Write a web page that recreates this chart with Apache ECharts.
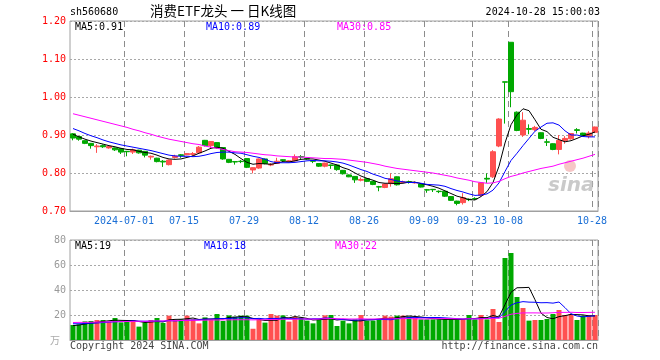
<!DOCTYPE html>
<html><head><meta charset="utf-8">
<script src="https://cdn.jsdelivr.net/npm/echarts@6/dist/echarts.min.js"></script>
<style>html,body{margin:0;padding:0;background:#fff}#c{width:660px;height:360px}</style>
</head><body><div id="c"></div>
<script>
const dates = [
'2024-06-18','2024-06-19','2024-06-20','2024-06-21','2024-06-24','2024-06-25','2024-06-26','2024-06-27','2024-06-28',
'2024-07-01','2024-07-02','2024-07-03','2024-07-04','2024-07-05','2024-07-08','2024-07-09','2024-07-10','2024-07-11','2024-07-12',
'2024-07-15','2024-07-16','2024-07-17','2024-07-18','2024-07-19','2024-07-22','2024-07-23','2024-07-24','2024-07-25','2024-07-26',
'2024-07-29','2024-07-30','2024-07-31','2024-08-01','2024-08-02','2024-08-05','2024-08-06','2024-08-07','2024-08-08','2024-08-09',
'2024-08-12','2024-08-13','2024-08-14','2024-08-15','2024-08-16','2024-08-19','2024-08-20','2024-08-21','2024-08-22','2024-08-23',
'2024-08-26','2024-08-27','2024-08-28','2024-08-29','2024-08-30','2024-09-02','2024-09-03','2024-09-04','2024-09-05','2024-09-06',
'2024-09-09','2024-09-10','2024-09-11','2024-09-12','2024-09-13','2024-09-18','2024-09-19','2024-09-20',
'2024-09-23','2024-09-24','2024-09-25','2024-09-26','2024-09-27','2024-09-30',
'2024-10-08','2024-10-09','2024-10-10','2024-10-11','2024-10-14','2024-10-15','2024-10-16','2024-10-17','2024-10-18',
'2024-10-21','2024-10-22','2024-10-23','2024-10-24','2024-10-25','2024-10-28'];
const tickDates = ['2024-07-01','2024-07-15','2024-07-29','2024-08-12','2024-08-26','2024-09-09','2024-09-23','2024-10-08','2024-10-28'];
const tickLabels = ['2024-07-01','07-15','07-29','08-12','08-26','09-09','09-23','10-08','10-28'];

const opens = [.903,.896,.885,.878,.869,.872,.866,.866,.864,.857,
.855,.860,.857,.842,.839,.831,.822,.841,.848,.848,
.849,.853,.886,.872,.880,.867,.836,.830,.831,.838,
.808,.813,.837,.821,.825,.835,.830,.832,.843,.838,
.832,.825,.818,.821,.821,.807,.795,.791,.781,.785,
.778,.764,.762,.772,.790,.775,.777,.774,.771,.756,
.757,.752,.752,.738,.726,.722,.731,.733,.741,.786,
.790,.871,1.040,1.144,.960,.900,.917,.914,.906,.882,
.877,.862,.885,.890,.914,.905,.897,.907];
const closes = [.892,.889,.878,.872,.871,.869,.870,.861,.855,.856,
.861,.853,.847,.844,.830,.829,.834,.844,.846,.851,
.851,.868,.872,.883,.866,.837,.828,.829,.830,.815,
.814,.837,.825,.823,.831,.833,.832,.843,.842,.837,
.831,.818,.826,.820,.809,.798,.790,.782,.783,.778,
.770,.763,.771,.785,.769,.777,.776,.775,.763,.755,
.756,.751,.739,.728,.720,.735,.730,.732,.774,.784,
.856,.942,1.039,1.014,.912,.939,.915,.920,.891,.881,
.862,.886,.891,.904,.912,.899,.905,.921];
const lows = [.886,.885,.876,.864,.853,.866,.864,.858,.850,.844,
.850,.851,.841,.835,.828,.816,.820,.838,.840,.847,
.843,.852,.870,.866,.864,.835,.826,.822,.826,.813,
.799,.811,.823,.818,.824,.829,.829,.831,.837,.835,
.826,.816,.815,.811,.806,.796,.789,.774,.778,.776,
.768,.752,.760,.764,.767,.774,.772,.772,.762,.748,
.750,.747,.737,.727,.715,.717,.726,.729,.738,.774,
.787,.868,.930,.973,.910,.895,.902,.910,.889,.871,
.860,.849,.877,.888,.904,.897,.891,.905];
const highs = [.905,.897,.886,.879,.876,.875,.872,.867,.865,.858,
.864,.861,.858,.846,.840,.834,.835,.848,.850,.852,
.855,.871,.887,.884,.881,.868,.837,.831,.834,.839,
.815,.838,.838,.826,.840,.836,.834,.849,.847,.840,
.834,.826,.827,.822,.822,.808,.796,.792,.788,.786,
.779,.766,.772,.799,.791,.780,.780,.778,.772,.758,
.758,.754,.753,.739,.727,.747,.733,.736,.776,.799,
.860,.944,1.040,1.144,.962,.960,.928,.924,.907,.890,
.878,.900,.897,.905,.918,.906,.910,.922];

const ma5 = [.902,.895,.889,.884,.880,.876,.872,.869,.865,.862,
.861,.857,.854,.852,.847,.841,.837,.836,.837,.841,
.845,.852,.858,.865,.868,.865,.857,.849,.838,.828,
.823,.825,.824,.823,.826,.830,.829,.832,.836,.837,
.837,.834,.831,.826,.821,.814,.809,.800,.792,.786,
.781,.775,.773,.773,.772,.773,.776,.776,.772,.769,
.765,.760,.753,.746,.739,.735,.730,.729,.738,.751,
.775,.818,.879,.927,.953,.969,.964,.940,.915,.909,
.894,.888,.882,.885,.891,.898,.902,.908];
const ma10 = [.917,.911,.904,.898,.893,.887,.882,.878,.874,.871,
.868,.865,.862,.859,.855,.851,.847,.845,.844,.844,
.843,.844,.847,.851,.854,.855,.855,.853,.852,.848,
.844,.841,.836,.830,.827,.827,.827,.828,.830,.832,
.833,.832,.832,.831,.829,.826,.821,.815,.809,.804,
.797,.792,.786,.783,.779,.777,.775,.775,.773,.770,
.769,.768,.765,.759,.754,.750,.745,.741,.742,.745,
.755,.774,.804,.833,.852,.872,.891,.910,.921,.931,
.932,.926,.911,.900,.900,.896,.895,.895];
const ma30 = [.956,.952,.948,.944,.940,.936,.932,.928,.924,.920,
.915,.911,.906,.902,.897,.893,.889,.886,.883,.880,
.877,.875,.871,.868,.865,.862,.859,.856,.855,.854,
.852,.850,.848,.847,.845,.844,.843,.842,.842,.841,
.840,.839,.838,.838,.837,.836,.834,.832,.830,.828,
.825,.822,.818,.815,.812,.810,.808,.806,.804,.802,
.800,.797,.794,.791,.787,.784,.781,.777,.775,.773,
.774,.778,.785,.791,.795,.800,.804,.808,.812,.815,
.818,.823,.827,.831,.835,.839,.844,.849];

const volumes = [12,12.5,14.9,15.2,16,16,14.7,17.6,14.1,15.5,
16,10.7,13.9,16,17.6,13.6,19.5,16,16.5,19.5,
16.5,13.3,18.1,16.5,20.8,15.2,19.7,18.7,19.5,19.5,
9,16,13.9,20.8,19.5,19.7,14.7,18.7,17.9,15.5,
13.3,16,19.7,20,11.2,15.5,13.3,16.5,20,15.5,
15.5,16.5,19.5,18.7,19.5,19.5,18.7,17.6,16.5,16.5,
16.5,16.5,16.5,16.5,16.5,16.5,20,16.5,20,16.5,
24.8,14.4,65.6,69.6,34.4,25.6,15.5,16,16,16.8,
20.8,24,20,20.8,16,19.5,20,20];
const volMa5 = [11.5,12,12.8,13.5,14.1,14.9,15.4,15.9,15.7,15.6,
15.6,14.8,14.0,14.4,14.8,14.4,16.1,16.5,16.6,17.0,
17.6,16.4,16.8,16.8,17.0,16.8,18.1,18.2,18.8,18.5,
17.3,16.5,15.6,15.8,15.8,18.0,17.7,18.7,18.1,17.3,
16.0,16.3,16.5,16.9,16.0,16.5,15.9,15.3,15.3,16.2,
16.2,16.8,17.4,17.1,17.9,18.7,19.2,18.8,18.4,17.8,
17.2,16.7,16.5,16.5,16.5,16.5,17.2,17.2,17.9,17.9,
19.6,18.4,28.3,38.2,41.8,41.9,42.1,32.2,21.5,18.0,
17.0,18.7,19.5,20.5,20.3,20.1,19.3,19.3];
const volMa10 = [13,13,13.2,13.4,13.6,14,14.3,14.6,14.8,14.9,
15.3,15.1,15.0,15.1,15.2,15.0,15.5,15.3,15.5,15.9,
16.0,16.2,16.7,16.7,17.0,17.2,17.2,17.5,17.8,17.8,
17.0,17.3,16.9,17.3,17.2,17.6,17.1,17.1,17.0,16.6,
17.0,17.0,17.6,17.5,16.7,16.3,16.1,15.9,16.1,16.1,
16.3,16.4,16.4,16.2,17.1,17.5,18.0,18.1,17.8,17.9,
18.0,18.0,17.7,17.4,17.1,16.8,17.0,16.9,17.2,17.2,
18.0,17.8,22.7,28.0,29.8,30.7,30.3,30.2,29.8,29.9,
29.5,30.4,25.9,21.0,19.2,18.5,19.0,19.4];
const volMa30 = [14.0,14.1,14.1,14.2,14.3,14.4,14.5,14.6,14.7,14.8,
14.9,15.0,15.0,15.1,15.2,15.3,15.4,15.5,15.6,15.7,
15.8,15.8,15.9,16.0,16.0,16.1,16.1,16.2,16.2,16.2,
16.1,16.2,16.2,16.4,16.5,16.6,16.6,16.6,16.8,16.8,
16.7,16.8,17.0,17.2,17.0,17.0,16.8,16.8,17.0,16.8,
16.8,16.9,16.9,17.0,17.0,17.1,17.1,17.0,16.9,16.8,
17.1,17.1,17.2,17.1,17.0,16.8,17.0,16.9,17.0,17.1,
17.4,17.4,18.9,20.6,21.3,21.7,21.7,21.7,21.6,21.6,
21.8,22.1,22.1,22.2,22.0,22.0,22.1,22.2];

const legendTop = ['MA5:0.91','MA10:0.89','MA30:0.85'];
const legendVol = ['MA5:19','MA10:18','MA30:22'];

const RED = '#ff5050', GREEN = '#00a800';
const MONO = '"DejaVu Sans Mono", monospace';
const tickIdx = tickDates.map(d => dates.indexOf(d));
const labelIdx = new Set(tickIdx);
const labelMap = {}; tickDates.forEach((d, k) => labelMap[d] = tickLabels[k]);

const kData = dates.map((d, i) => [opens[i], closes[i], lows[i], highs[i]]);
const volData = volumes.map((v, i) => ({ value: v, itemStyle: { color: closes[i] > opens[i] ? RED : GREEN } }));

const hSplit = () => ({ show: true, lineStyle: { color: '#a8a8a8', type: [2, 2], width: 1 } });
const vSplit = () => ({ show: true, interval: (i) => labelIdx.has(i), lineStyle: { color: '#8c8c8c', type: [6, 4], width: 1 } });
function line(data, color, xi, yi) {
  return { type: 'line', data, xAxisIndex: xi, yAxisIndex: yi, showSymbol: false, silent: true,
    lineStyle: { color, width: 1 }, itemStyle: { color }, z: 5 };
}
const txt = (left, top, text, color, font) => ({ type: 'text', left, top, silent: true, z: 10, style: { text, fill: color, font: font || ('10px ' + MONO) } });
const chart = echarts.init(document.getElementById('c'));
chart.setOption({
  animation: false,
  grid: [
    { left: 70, width: 528, top: 21, height: 190, show: true, borderColor: '#a0a0a0', borderWidth: 1 },
    { left: 70, width: 528, top: 240, height: 100, show: true, borderColor: '#a0a0a0', borderWidth: 1 }
  ],
  xAxis: [
    { type: 'category', gridIndex: 0, data: dates, boundaryGap: true,
      axisLine: { show: true, lineStyle: { color: '#a0a0a0' } }, axisTick: { show: false },
      axisLabel: { interval: (i) => labelIdx.has(i), formatter: (v) => labelMap[v] || '', color: '#1a6fd6',
        fontFamily: MONO, fontSize: 10, margin: 5, padding: [0, 6, 0, 0] },
      splitLine: vSplit() },
    { type: 'category', gridIndex: 1, data: dates, boundaryGap: true,
      axisLine: { show: true, lineStyle: { color: '#a0a0a0' } }, axisTick: { show: false }, axisLabel: { show: false },
      splitLine: vSplit() }
  ],
  yAxis: [
    { type: 'value', gridIndex: 0, min: 0.7, max: 1.2, interval: 0.1,
      axisLine: { show: false }, axisTick: { show: false },
      axisLabel: { formatter: (v) => v.toFixed(2), color: '#ff0000', fontFamily: MONO, fontSize: 10, margin: 4 },
      splitLine: hSplit() },
    { type: 'value', gridIndex: 1, min: 0, max: 80, interval: 20,
      axisLine: { show: false }, axisTick: { show: false },
      axisLabel: { formatter: (v) => v === 0 ? '' : String(v), color: '#999999', fontFamily: MONO, fontSize: 10, margin: 4 },
      splitLine: hSplit() }
  ],
  series: [
    { type: 'candlestick', data: kData, xAxisIndex: 0, yAxisIndex: 0, barWidth: 5, silent: true, z: 3,
      itemStyle: { color: RED, color0: GREEN, borderColor: RED, borderColor0: GREEN, borderWidth: 1 } },
    line(ma5, '#000000', 0, 0),
    line(ma10, '#0000ff', 0, 0),
    line(ma30, '#ff00ff', 0, 0),
    { type: 'bar', data: volData, xAxisIndex: 1, yAxisIndex: 1, barWidth: 5, silent: true, z: 3 },
    line(volMa5, '#000000', 1, 1),
    line(volMa10, '#0000ff', 1, 1),
    line(volMa30, '#ff00ff', 1, 1)
  ],
  graphic: [
    txt(70, 7, 'sh560680', '#000'),
    txt(150, 4, '消费ETF龙头 一 日K线图', '#000', '13.5px "Noto Sans CJK SC"'),
    { type: 'text', right: 60, top: 7, silent: true, style: { text: '2024-10-28 15:00:03', fill: '#000', font: '10px ' + MONO } },
    txt(75, 22, legendTop[0], '#000'),
    txt(206, 22, legendTop[1], '#0000ff'),
    txt(337, 22, legendTop[2], '#ff00ff'),
    txt(75, 241, legendVol[0], '#000'),
    txt(204, 241, legendVol[1], '#0000ff'),
    txt(335, 241, legendVol[2], '#ff00ff'),
    txt(50, 335, '万', '#aaa', '10px "Noto Sans CJK SC"'),
    txt(70, 341, 'Copyright 2024 SINA.COM', '#444'),
    { type: 'text', right: 62, top: 341, silent: true, style: { text: 'http://finance.sina.com.cn', fill: '#444', font: '10px ' + MONO } },
    txt(548, 176, 'sina', 'rgba(180,180,180,0.7)', 'italic bold 20px "DejaVu Sans"'),
    { type: 'circle', silent: true, shape: { cx: 570, cy: 166, r: 6 }, style: { fill: 'rgba(240,160,160,0.6)' } }
  ]
});
</script></body></html>
